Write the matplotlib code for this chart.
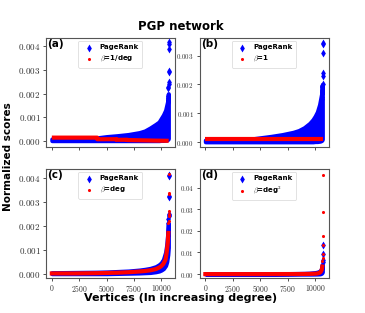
import matplotlib
matplotlib.use("Agg")
import matplotlib.pyplot as plt
from matplotlib.ticker import FuncFormatter, MultipleLocator

plt.rcParams['mathtext.fontset'] = 'cm'
plt.rcParams['font.family'] = ['DejaVu Sans']

# ---------------- data ----------------
n_vertices = 10680
x_knots = [0, 2000, 4000, 5000, 6000, 7000, 8000, 8500, 9000, 9500, 9800,
           10000, 10200, 10400, 10500, 10600, 10650]

# panel (a): PageRank band vs beta = 1/deg
pr_a_hi = [0.00008, 0.00009, 0.00012, 0.00018, 0.00022, 0.00027, 0.00035, 0.00042,
           0.00055, 0.0007, 0.0008, 0.00095, 0.0011, 0.0013, 0.0015, 0.0017, 0.0020]
pr_a_lo = [0.00001, 0.00001, 0.00001, 0.00001, 0.00001, 0.00001, 0.00001, 0.00001,
           0.00001, 0.00001, 0.00001, 0.00002, 0.00002, 0.00003, 0.00004, 0.00006, 0.0001]
pr_a_out = [0.0042, 0.0041, 0.0039, 0.00295, 0.0029, 0.0025, 0.0024, 0.0023,
            0.00225, 0.0019, 0.0018, 0.0016]
b_a_x = [0, 4150, 4150, 5900, 5900, 6900, 6900, 7600, 8500, 9500, 10680]
b_a_y = [0.000137, 0.000137, 0.00007, 0.00007, 0.000047, 0.000047, 0.000035,
         0.000028, 0.00002, 0.00001, 0.000002]

# panel (b): PageRank band vs beta = 1
pr_b_hi = [0.00007, 0.00008, 0.0001, 0.00015, 0.0002, 0.00026, 0.00034, 0.0004,
           0.0005, 0.00065, 0.00078, 0.0009, 0.00105, 0.0013, 0.0015, 0.0017, 0.0020]
pr_b_lo = pr_a_lo
pr_b_out = [0.00345, 0.0034, 0.0031, 0.0024, 0.0023, 0.002, 0.00195, 0.0019,
            0.0018, 0.00155, 0.0015]
b_b_x = [0, 10680]
b_b_y = [0.0000936, 0.0000936]

# panel (c): PageRank band vs beta = deg
pr_c_hi = [0.00005, 0.00006, 0.00007, 0.00008, 0.0001, 0.00012, 0.00016, 0.00019,
           0.00023, 0.0003, 0.00038, 0.00046, 0.0006, 0.0009, 0.0012, 0.0017, 0.0021]
pr_c_lo = [0.00001, 0.00001, 0.00001, 0.00001, 0.00002, 0.00003, 0.00004, 0.00005,
           0.00006, 0.00009, 0.00012, 0.00016, 0.00022, 0.00035, 0.0005, 0.0008, 0.0011]
b_c_y = [0.00002, 0.00002, 0.00003, 0.00004, 0.00005, 0.00007, 0.0001, 0.00012,
         0.00015, 0.0002, 0.00026, 0.00032, 0.00042, 0.0006, 0.0009, 0.0013, 0.0017]
pr_c_out = [0.0041, 0.00405, 0.00325, 0.0032, 0.0025, 0.00245, 0.0024, 0.0023, 0.0021]
b_c_out = [0.00415, 0.0033, 0.00335, 0.0026, 0.0025, 0.0024, 0.0022, 0.0021]

# panel (d): PageRank band vs beta = deg^2
pr_d_hi = [0.0001, 0.0001, 0.00012, 0.00014, 0.00016, 0.0002, 0.00026, 0.0003,
           0.00035, 0.00045, 0.0006, 0.0007, 0.0009, 0.0013, 0.0018, 0.0028, 0.0045]
pr_d_lo = [0.0, 0.0, 0.0, 0.0, 0.0, 0.0, 0.0, 0.0, 0.0, 0.00001, 0.00002, 0.00003,
           0.00005, 0.0001, 0.0002, 0.0005, 0.001]
b_d_y = [0.0, 0.0, 0.0, 0.0, 0.00001, 0.00002, 0.00003, 0.00004, 0.00006, 0.0001,
         0.00015, 0.0002, 0.0003, 0.0006, 0.001, 0.002, 0.0035]
pr_d_out = [0.0135, 0.0095, 0.0065, 0.0055]
b_d_out = [0.0457, 0.0289, 0.0178, 0.0135, 0.0093, 0.0075, 0.006]

tick_x = [0, 2500, 5000, 7500, 10000]

# ---------------- figure ----------------
W, H = 365, 313
fig = plt.figure(figsize=(W / 100, H / 100), dpi=100)

def box(l, t, r, b):
    return [l / W, 1 - b / H, (r - l) / W, (b - t) / H]

axes = {
    'a': fig.add_axes(box(46, 37.5, 174.5, 147)),
    'b': fig.add_axes(box(199.5, 37.5, 328.5, 147)),
    'c': fig.add_axes(box(46, 168.5, 174.5, 278)),
    'd': fig.add_axes(box(199.5, 168.5, 328.5, 278)),
}

blue = '#0000ff'
red = '#ff0000'

def band(ax, xs, lo, hi, color, lw, z):
    ax.fill_between(xs, lo, hi, color=color, lw=lw, edgecolor=color, zorder=z)

def outliers(ax, vals, color, marker, ms, z):
    xs = [n_vertices - 1 - i * 2 for i in range(len(vals))]
    ax.scatter(xs, vals, s=ms, marker=marker, color=color, zorder=z, lw=0)

panels = [
    ('a', pr_a_lo, pr_a_hi, pr_a_out, r'$\beta$=1/deg'),
    ('b', pr_b_lo, pr_b_hi, pr_b_out, r'$\beta$=1'),
    ('c', pr_c_lo, pr_c_hi, pr_c_out, r'$\beta$=deg'),
    ('d', pr_d_lo, pr_d_hi, pr_d_out, r'$\beta$=deg$^2$'),
]

for key, lo, hi, out, blabel in panels:
    ax = axes[key]
    band(ax, x_knots, lo, hi, blue, 3.0, 2)
    outliers(ax, out, blue, 'd', 16, 3)
    if key == 'a':
        ax.plot(b_a_x, b_a_y, color=red, lw=3.0, solid_capstyle='butt', zorder=4)
    elif key == 'b':
        ax.plot(b_b_x, b_b_y, color=red, lw=3.0, solid_capstyle='butt', zorder=4)
    elif key == 'c':
        ax.plot(x_knots, b_c_y, color=red, lw=3.0, zorder=4)
        outliers(ax, b_c_out, red, 'o', 5, 5)
    else:
        ax.plot(x_knots, b_d_y, color=red, lw=3.0, zorder=4)
        outliers(ax, b_d_out, red, 'o', 5, 5)
    # legend handles
    hb = ax.scatter([], [], s=16, marker='d', color=blue, lw=0, label='PageRank')
    hr = ax.scatter([], [], s=5, marker='o', color=red, lw=0, label=blabel)
    leg = ax.legend(handles=[hb, hr], loc='upper center',
                    prop={'weight': 'bold', 'size': 5}, frameon=True,
                    handletextpad=0.6, borderpad=0.5, labelspacing=0.5,
                    bbox_to_anchor=(0.5, 1.0))
    leg.get_frame().set_linewidth(0.5)
    leg.get_frame().set_edgecolor('#cccccc')

    ax.text(0.01, 0.985, '(' + key + ')', transform=ax.transAxes, ha='left', va='top',
            fontsize=7.5, fontweight='bold')
    ax.set_xlim(-534, 11214)
    ax.set_xticks(tick_x)
    for s in ax.spines.values():
        s.set_color('#555555')
        s.set_linewidth(0.8)
    ax.tick_params(length=2.5, width=0.6, colors='#333333', labelsize=6.5, pad=1.5)
    if key in ('a', 'b'):
        ax.set_xticklabels([])
    else:
        ax.tick_params(axis='x', labelsize=5.5, pad=1)
        ax.xaxis.set_major_formatter(FuncFormatter(lambda v, p: r'$%d$' % v))

axes['a'].set_ylim(-0.00026, 0.00438)
axes['a'].yaxis.set_major_locator(MultipleLocator(0.001))
axes['a'].yaxis.set_major_formatter(FuncFormatter(lambda v, p: r'$%.3f$' % v))
axes['b'].set_ylim(-0.00017, 0.00363)
axes['b'].yaxis.set_major_locator(MultipleLocator(0.001))
axes['b'].yaxis.set_major_formatter(FuncFormatter(lambda v, p: r'$%.3f$' % v))
axes['b'].tick_params(axis='y', labelsize=5)
axes['c'].set_ylim(-0.00017, 0.00438)
axes['c'].yaxis.set_major_locator(MultipleLocator(0.001))
axes['c'].yaxis.set_major_formatter(FuncFormatter(lambda v, p: r'$%.3f$' % v))
axes['d'].set_ylim(-0.0018, 0.0488)
axes['d'].yaxis.set_major_locator(MultipleLocator(0.01))
axes['d'].yaxis.set_major_formatter(FuncFormatter(lambda v, p: r'$%.2f$' % v))
axes['d'].tick_params(axis='y', labelsize=5)

fig.text(181 / W, 1 - 26 / H, 'PGP network', ha='center', va='center',
         fontsize=8.5, fontweight='bold')
fig.text(8 / W, 1 - 157 / H, 'Normalized scores', ha='center', va='center',
         rotation=90, fontsize=7.5, fontweight='bold')
fig.text(181 / W, 1 - 298 / H, 'Vertices (In increasing degree)', ha='center',
         va='center', fontsize=8, fontweight='bold')

fig.savefig('out.png', dpi=100)
